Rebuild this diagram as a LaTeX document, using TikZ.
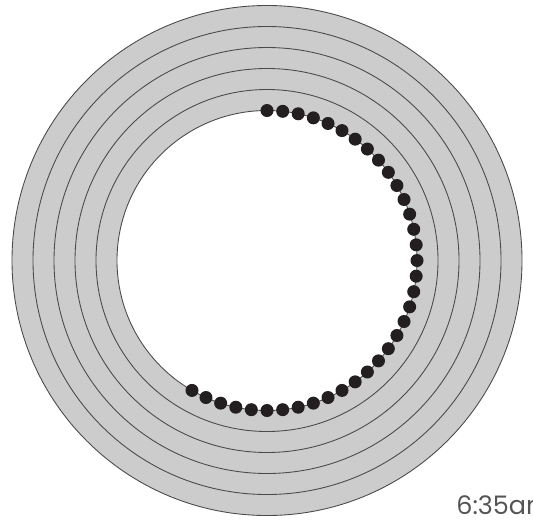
\documentclass[tikz,border=0pt]{standalone}
\usepackage{fontspec}
\setmainfont{Poppins}
\usetikzlibrary{positioning,calc}
\definecolor{ringfill}{HTML}{CCCCCC}
\definecolor{ringline}{HTML}{4A4A4A}
\definecolor{dotblack}{HTML}{231F20}
\definecolor{clocktext}{HTML}{555555}
\tikzset{
    ring/.style={draw=ringline, line width=0.5pt},
    minutedot/.style={circle, fill=dotblack, minimum size=7.4pt, inner sep=0pt},
    timelabel/.style={font=\fontsize{14.5}{17}\selectfont, text=clocktext, anchor=base west, inner sep=0pt},
}

\begin{document}
\begin{tikzpicture}[x=0.02cm, y=-0.02cm]
    \useasboundingbox (0,0) rectangle (533,531);
    \clip (0,0) rectangle (533,531);
    \coordinate (c) at (267,260.5);
    % rings
    \fill[ringfill] (c) circle[radius=255];
    \fill[white] (c) circle[radius=150];
    \foreach \r in {150,171,...,255}
        \draw[ring] (c) circle[radius=\r];
    % one dot per minute
    \foreach \m in {0,...,35}
        \node[minutedot] (d\m) at ($(c)+(6*\m-90:150)$) {};
    \node[timelabel] (time) at (456,514) {6:35am};
\end{tikzpicture}
\end{document}
